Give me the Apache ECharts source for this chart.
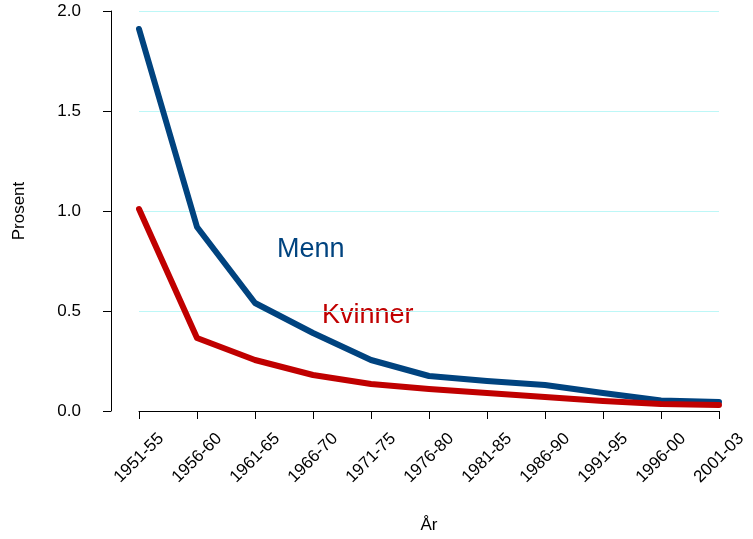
<!DOCTYPE html>
<html>
<head>
<meta charset="utf-8">
<script src="https://cdn.jsdelivr.net/npm/echarts@6/dist/echarts.min.js"></script>
<style>html,body{margin:0;padding:0;background:#fff;}#c{width:753px;height:539px;}</style>
</head>
<body>
<div id="c"></div>
<script>
const categories = ['1951-55','1956-60','1961-65','1966-70','1971-75','1976-80','1981-85','1986-90','1991-95','1996-00','2001-03'];
const menn = [1.91, 0.92, 0.54, 0.39, 0.255, 0.175, 0.15, 0.13, 0.09, 0.053, 0.045];
const kvinner = [1.01, 0.365, 0.255, 0.18, 0.135, 0.11, 0.09, 0.07, 0.05, 0.035, 0.03];
const yTicks = [0, 0.5, 1.0, 1.5, 2.0];

const FONT = 'Liberation Sans';
const chart = echarts.init(document.getElementById('c'), null, {renderer: 'canvas'});
chart.setOption({
  animation: false,
  backgroundColor: '#fff',
  grid: {left: 139, width: 580, top: 11, height: 402, containLabel: false},
  xAxis: {
    type: 'category',
    data: categories,
    boundaryGap: false,
    offset: 17,
    name: 'År',
    nameLocation: 'middle',
    nameGap: 89,
    nameTextStyle: {fontFamily: FONT, fontSize: 17, color: '#000'},
    axisLine: {show: true, lineStyle: {color: '#000', width: 1}},
    axisTick: {show: true, length: 8, interval: 0, lineStyle: {color: '#000'}},
    axisLabel: {rotate: 45, interval: 0, margin: 30, align: 'center', verticalAlign: 'middle', fontFamily: FONT, fontSize: 17, color: '#000'},
    splitLine: {show: false}
  },
  yAxis: {
    type: 'value',
    min: yTicks[0],
    max: yTicks[yTicks.length - 1],
    interval: 0.5,
    offset: 28,
    name: 'Prosent',
    nameLocation: 'middle',
    nameGap: 83,
    nameTextStyle: {fontFamily: FONT, fontSize: 17, color: '#000'},
    axisLine: {show: true, lineStyle: {color: '#000', width: 1}},
    axisTick: {show: true, length: 8, lineStyle: {color: '#000'}},
    axisLabel: {margin: 30, fontFamily: FONT, fontSize: 17, color: '#000', formatter: v => v.toFixed(1)},
    splitLine: {show: true, lineStyle: {color: '#bdf7f7', width: 1}}
  },
  series: [
    {name: 'Menn', type: 'line', data: menn, symbol: 'none', lineStyle: {color: '#00437f', width: 6, cap: 'round', join: 'round'}, itemStyle: {color: '#00437f'}},
    {name: 'Kvinner', type: 'line', data: kvinner, symbol: 'none', lineStyle: {color: '#c00000', width: 6, cap: 'round', join: 'round'}, itemStyle: {color: '#c00000'}}
  ],
  graphic: [
    {type: 'text', x: 277, y: 250, style: {text: 'Menn', fill: '#00437f', font: '27px "Liberation Sans"', verticalAlign: 'middle'}},
    {type: 'text', x: 322, y: 316, style: {text: 'Kvinner', fill: '#c00000', font: '27px "Liberation Sans"', verticalAlign: 'middle'}}
  ]
});
</script>
</body>
</html>
